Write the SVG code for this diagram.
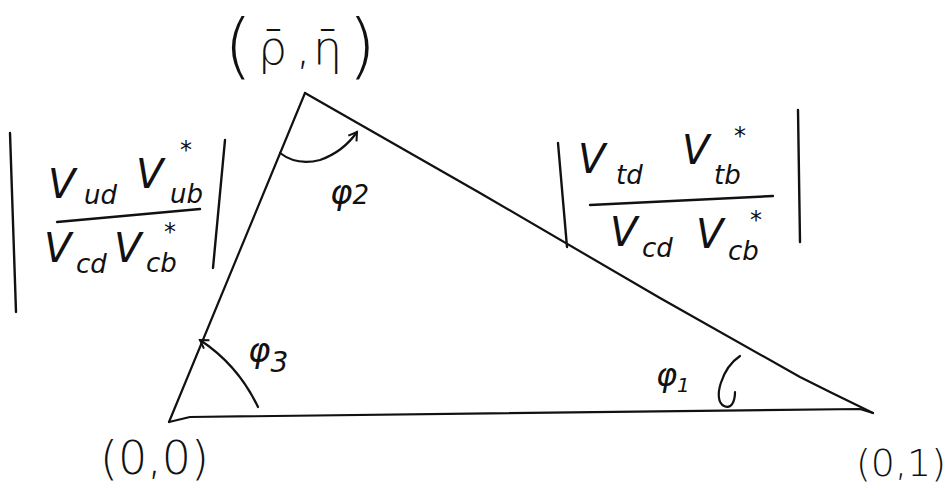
<svg xmlns="http://www.w3.org/2000/svg" width="949" height="492" viewBox="0 0 949 492">
<defs>
<style>
.ln{fill:none;stroke:#111;stroke-width:2.2;stroke-linecap:round;stroke-linejoin:round}
.t{font-family:"DejaVu Sans","Liberation Sans",sans-serif;fill:#111}
.v{font-size:40px;font-style:italic}
.s{font-size:26px;font-style:italic}
.st{font-size:24px}
.p{font-weight:200}
.bar{fill:none;stroke:#111;stroke-width:2.4;stroke-linecap:round}
</style>
<marker id="ah" markerWidth="12" markerHeight="12" refX="9" refY="6" orient="auto" markerUnits="userSpaceOnUse">
<path d="M1,1 L9,6 L1,11" fill="none" stroke="#111" stroke-width="2"/>
</marker>
</defs>
<rect width="949" height="492" fill="#fff"/>
<g id="connectors">
<path class="ln" d="M305,93 L480,193 L660,298 L800,377 L830,392 L873,413"/>
<path class="ln" d="M305,93 L169,422"/>
<path class="ln" d="M169,422 L190,417 L860,409 L873,413"/>
<path class="ln" d="M280,153 Q297,166 320,160 Q343,152 357,132" marker-end="url(#ah)"/>
<path class="ln" d="M258,407 Q238,365 200,340" marker-end="url(#ah)"/>
<path class="ln" d="M740,356 C722,368 712,400 724,406 C732,410 735,400 735,392"/>
</g>
<g id="vertex-top">
<text class="t p" x="224" y="70" style="font-size:72px">(</text>
<text class="t p" x="258" y="64" style="font-size:46px">ρ̄</text>
<text class="t p" x="296" y="64" style="font-size:46px">,</text>
<text class="t p" x="313" y="64" style="font-size:46px">η̄</text>
<text class="t p" x="348" y="70" style="font-size:72px">)</text>
</g>
<g id="vertex-origin">
<text class="t p" x="100" y="474" style="font-size:46px">(0,0)</text>
</g>
<g id="vertex-one">
<text class="t p" x="856" y="476" style="font-size:38px">(0,1)</text>
</g>
<g id="ratio-left">
<line class="bar" x1="10" y1="133" x2="16" y2="312"/>
<line class="bar" x1="225" y1="140" x2="213" y2="268"/>
<text class="t v" x="48" y="198">V</text>
<text class="t s" x="84" y="204">ud</text>
<text class="t v" x="136" y="188">V</text>
<text class="t st" x="180" y="158">*</text>
<text class="t s" x="170" y="203">ub</text>
<line class="bar" x1="57" y1="222" x2="200" y2="209"/>
<text class="t v" x="44" y="262">V</text>
<text class="t s" x="76" y="273">cd</text>
<text class="t v" x="114" y="262">V</text>
<text class="t st" x="164" y="240">*</text>
<text class="t s" x="146" y="272">cb</text>
</g>
<g id="ratio-right">
<line class="bar" x1="558" y1="143" x2="567" y2="247"/>
<line class="bar" x1="798" y1="110" x2="800" y2="242"/>
<text class="t v" x="578" y="173">V</text>
<text class="t s" x="616" y="184">td</text>
<text class="t v" x="682" y="164">V</text>
<text class="t st" x="734" y="144">*</text>
<text class="t s" x="714" y="184">tb</text>
<line class="bar" x1="590" y1="205" x2="773" y2="196"/>
<text class="t v" x="610" y="246">V</text>
<text class="t s" x="642" y="257">cd</text>
<text class="t v" x="696" y="248">V</text>
<text class="t st" x="750" y="228">*</text>
<text class="t s" x="728" y="260">cb</text>
</g>
<g id="angle-phi2">
<text class="t" x="330" y="204"><tspan class="v" style="font-size:34px">φ</tspan><tspan class="s" style="font-size:26px">2</tspan></text>
</g>
<g id="angle-phi3">
<text class="t" x="248" y="362"><tspan class="v" style="font-size:34px">φ</tspan><tspan class="s" style="font-size:28px" dy="10">3</tspan></text>
</g>
<g id="angle-phi1">
<text class="t" x="656" y="386"><tspan class="v" style="font-size:32px">φ</tspan><tspan class="s" style="font-size:20px" dy="6">1</tspan></text>
</g>
</svg>
